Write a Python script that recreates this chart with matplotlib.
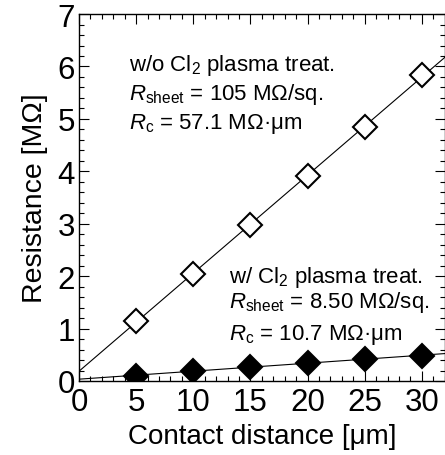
import numpy as np
import matplotlib
matplotlib.use("Agg")
import matplotlib.pyplot as plt
from matplotlib.ticker import MultipleLocator

plt.rcParams["font.family"] = ["Liberation Sans", "DejaVu Sans"]
plt.rcParams["mathtext.fontset"] = "custom"
plt.rcParams["mathtext.rm"] = "Liberation Sans"
plt.rcParams["mathtext.it"] = "Liberation Sans:italic"

# contact distance [um]
distance = [5, 10, 15, 20, 25, 30]
# resistance [MOhm]
r_without = [1.15, 2.04, 2.98, 3.92, 4.84, 5.83]
r_with = [0.10, 0.19, 0.27, 0.35, 0.42, 0.48]

fig = plt.figure(figsize=(4.45, 4.56), dpi=100)
ax = fig.add_axes([0.1775, 0.1623, 0.822, 0.8047])

xfit = np.linspace(0, 33, 50)
for r in (r_without, r_with):
    k, b = np.polyfit(distance, r, 1)
    ax.plot(xfit, k * xfit + b, color="black", lw=0.8, zorder=2)

ax.plot(distance, r_without, ls="none", marker="D", ms=12, mfc="white",
        mec="black", mew=1.5, zorder=3)
ax.plot(distance, r_with, ls="none", marker="D", ms=12, mfc="black",
        mec="black", mew=1.5, zorder=3)

ax.set_xlim(0, 32)
ax.set_ylim(0, 7)
ax.xaxis.set_major_locator(MultipleLocator(5))
ax.xaxis.set_minor_locator(MultipleLocator(1))
ax.yaxis.set_major_locator(MultipleLocator(1))
ax.yaxis.set_minor_locator(MultipleLocator(0.2))
ax.tick_params(which="both", direction="in", top=True, right=True,
               labelsize=22.5, width=0.8)
ax.tick_params(which="major", length=7)
ax.tick_params(axis="x", which="major", pad=4)
ax.tick_params(axis="y", which="major", pad=3)
ax.tick_params(which="minor", length=3.5)
for s in ax.spines.values():
    s.set_linewidth(1.0)

ax.set_xlabel("Contact distance [μm]", fontsize=20, labelpad=5)
ax.set_ylabel("Resistance [MΩ]", fontsize=20.5, labelpad=7)

fs = 16
ax.text(4.36, 5.93, r"w/o Cl$_2$ plasma treat.", fontsize=fs, va="baseline")
ax.text(4.36, 5.38, r"$R_{\rm sheet}$ = 105 MΩ/sq.", fontsize=fs, va="baseline")
ax.text(4.36, 4.83, r"$R_{\rm c}$ = 57.1 MΩ·μm", fontsize=fs, va="baseline")
ax.text(13.1, 1.89, r"w/ Cl$_2$ plasma treat.", fontsize=fs, va="baseline")
ax.text(13.1, 1.41, r"$R_{\rm sheet}$ = 8.50 MΩ/sq.", fontsize=fs, va="baseline")
ax.text(13.1, 0.80, r"$R_{\rm c}$ = 10.7 MΩ·μm", fontsize=fs, va="baseline")

fig.savefig("out.png", dpi=100)
